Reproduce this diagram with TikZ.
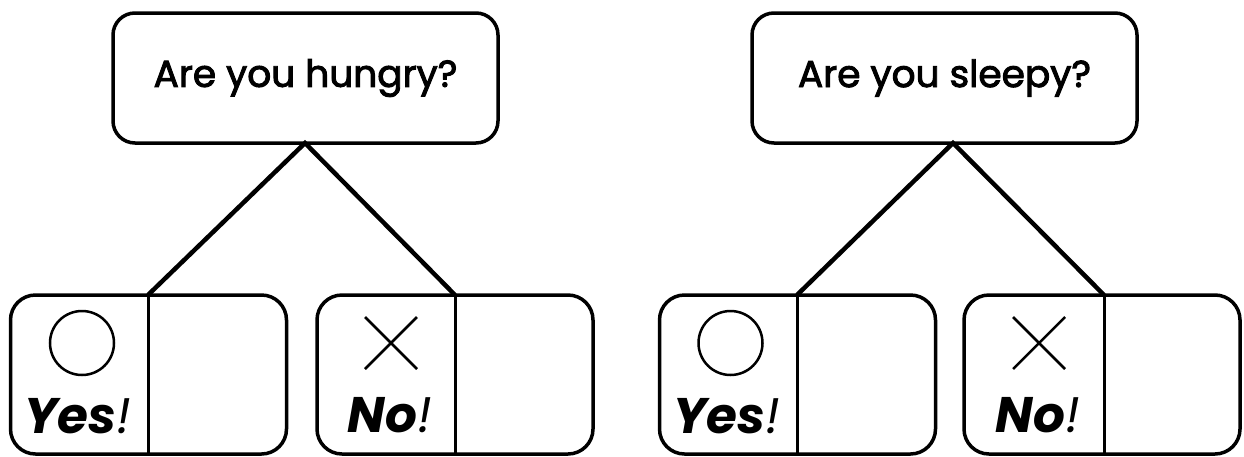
\documentclass[tikz,border=0pt]{standalone}
\usepackage{fontspec}
\setmainfont{Poppins}
\newfontfamily\qfont{Poppins}[FakeBold=2.5]
\usetikzlibrary{calc}
\begin{document}
\begin{tikzpicture}[x=1pt,y=-1pt,
  qbox/.style={draw,line width=3.5pt,rounded corners=22pt,minimum width=385pt,minimum height=130pt,inner sep=0pt,font=\qfont\fontsize{37.5}{40}\selectfont},
  abox/.style={draw,line width=3.5pt,rounded corners=25pt,minimum width=276pt,minimum height=159pt,inner sep=0pt},
  link/.style={line width=4.5pt},
  divider/.style={line width=3pt},
  sym/.style={line width=2.5pt},
  ans/.style={inner sep=0pt,font=\fontsize{50}{50}\selectfont\bfseries\itshape}
]
\useasboundingbox (0,0) rectangle (1244,456);
% questions
\node[qbox] (q1) at (305.5,78) {Are you hungry?};
\node[qbox] (q2) at (944.5,78) {Are you sleepy?};
% answer boxes
\node[abox] (b1) at (148.5,374.5) {};
\node[abox] (b2) at (455,374.5) {};
\node[abox] (b3) at (797.5,374.5) {};
\node[abox] (b4) at (1102,374.5) {};
% connection points
\coordinate (a1) at (305,143);
\coordinate (a2) at (953,143);
\coordinate (d1t) at (148,295); \coordinate (d1b) at (148,454);
\coordinate (d2t) at (455,295); \coordinate (d2b) at (455,454);
\coordinate (d3t) at (797,295); \coordinate (d3b) at (797,454);
\coordinate (d4t) at (1104,295); \coordinate (d4b) at (1104,454);
% dividers
\draw[divider] (d1t) -- (d1b);
\draw[divider] (d2t) -- (d2b);
\draw[divider] (d3t) -- (d3b);
\draw[divider] (d4t) -- (d4b);
% connectors
\draw[link] (d1t) -- (a1) -- (d2t);
\draw[link] (d3t) -- (a2) -- (d4t);
% symbols
\node[draw,sym,circle,minimum size=64pt,inner sep=0pt] (c1) at (82,343) {};
\node[draw,sym,circle,minimum size=64pt,inner sep=0pt] (c2) at (730.5,343) {};
\coordinate (x1) at (391,343);
\coordinate (x2) at (1039,343);
\draw[sym] ($(x1)+(-26,-26)$) -- ($(x1)+(26,26)$) ($(x1)+(-26,26)$) -- ($(x1)+(26,-26)$);
\draw[sym] ($(x2)+(-26,-26)$) -- ($(x2)+(26,26)$) ($(x2)+(-26,26)$) -- ($(x2)+(26,-26)$);
% labels
\node[ans] (y1) at (78,416) {Yes\textmd{!}};
\node[ans] (n1) at (390,415) {No\textmd{!}};
\node[ans] (y2) at (727,416) {Yes\textmd{!}};
\node[ans] (n2) at (1038,415) {No\textmd{!}};
\end{tikzpicture}
\end{document}
